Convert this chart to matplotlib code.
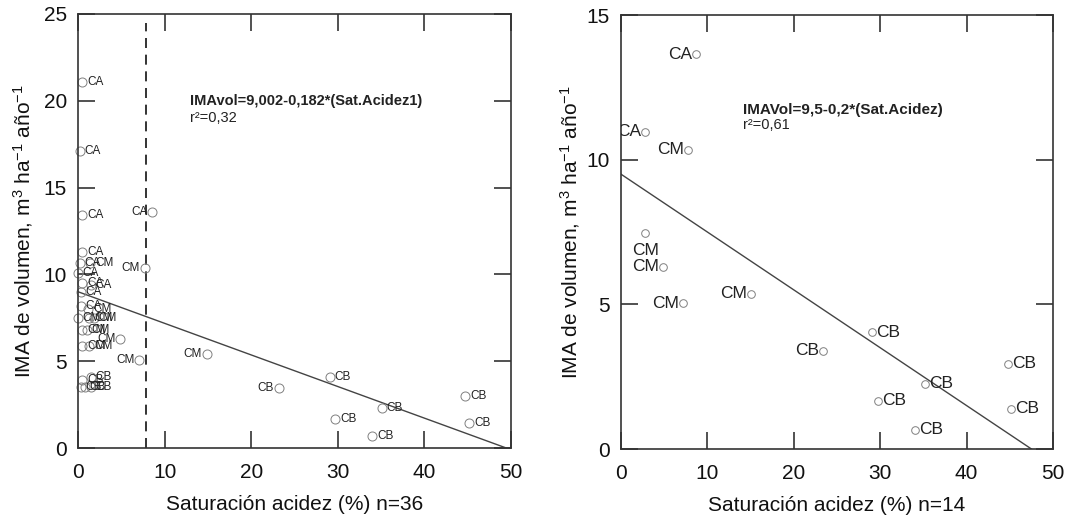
import matplotlib
matplotlib.use("Agg")
import matplotlib.pyplot as plt
import numpy as np

plt.rcParams['font.family'] = ['Liberation Sans', 'DejaVu Sans']
plt.rcParams['mathtext.fontset'] = 'custom'
plt.rcParams['mathtext.rm'] = 'Liberation Sans'
plt.rcParams['mathtext.it'] = 'Liberation Sans:italic'

# ---------------- data: left panel (n=36) ----------------
left_x = [0.5, 0.2, 0.5, 8.6, 0.5, 0.2, 0.0, 0.5, 1.5, 0.3, 0.3,
          1.4, 7.7, 1.2, 0.0, 1.3, 1.8, 0.5, 1.0, 4.9, 7.1, 14.9, 0.5, 1.3,
          1.5, 0.5, 0.3, 0.8, 1.5, 23.2, 29.1, 29.7, 35.1, 34.0, 44.7, 45.2]
left_y = [21.1, 17.1, 13.4, 13.6, 11.3, 10.65, 10.1, 9.5, 9.4, 9.0, 8.2,
          10.65, 10.35, 8.0, 7.5, 7.5, 7.5, 6.8, 6.8, 6.3, 5.05, 5.4, 5.9, 5.9,
          4.1, 3.9, 3.5, 3.5, 3.5, 3.45, 4.1, 1.7, 2.3, 0.7, 3.0, 1.45]
left_lab = ['CA'] * 11 + ['CM'] * 13 + ['CB'] * 12
left_side = ['r', 'r', 'r', 'l', 'r', 'r', 'r', 'r', 'r', 'r', 'r',
             'r', 'l', 'r', 'r', 'r', 'r', 'r', 'r', 'l', 'l', 'l', 'r', 'r',
             'r', 'r', 'r', 'r', 'r', 'l', 'r', 'r', 'r', 'r', 'r', 'r']
left_a, left_b = 9.002, -0.182
left_eq = "IMAvol=9,002-0,182*(Sat.Acidez1)"
left_r2 = "r²=0,32"
left_cut = 7.9

# ---------------- data: right panel (n=14) ----------------
right_x = [8.7, 2.8, 7.8, 2.8, 4.9, 7.2, 15.1,
           23.4, 29.1, 29.7, 35.2, 34.0, 44.8, 45.1]
right_y = [13.65, 10.97, 10.35, 7.46, 6.3, 5.03, 5.37,
           3.4, 4.03, 1.67, 2.26, 0.66, 2.95, 1.39]
right_lab = ['CA', 'CA', 'CM', 'CM', 'CM', 'CM', 'CM',
             'CB', 'CB', 'CB', 'CB', 'CB', 'CB', 'CB']
right_side = ['l', 'l', 'l', 'b', 'l', 'l', 'l',
              'l', 'r', 'r', 'r', 'r', 'r', 'r']
right_a, right_b = 9.5, -0.2
right_eq = "IMAVol=9,5-0,2*(Sat.Acidez)"
right_r2 = "r²=0,61"

xticks = [0, 10, 20, 30, 40, 50]
ylabel = r"IMA de volumen, m$^{3}$ ha$^{-1}$ año$^{-1}$"

fig = plt.figure(figsize=(10.73, 5.18), dpi=100)
axL = fig.add_axes([0.0727, 0.1351, 0.4035, 0.8379])
axR = fig.add_axes([0.5787, 0.1332, 0.4027, 0.8378])

def style(ax, ymax, ystep, xlabel, ypad):
    ax.set_xlim(0, 50)
    ax.set_ylim(0, ymax)
    ax.set_xticks(xticks)
    ax.set_yticks(np.arange(0, ymax + 0.1, ystep))
    ax.tick_params(direction='in', length=12, width=1.2, color='#333333',
                   top=True, right=True, labelsize=15, labelcolor='#111111')
    ax.tick_params(axis='x', pad=11)
    ax.tick_params(axis='y', pad=8)
    for s in ax.spines.values():
        s.set_color('#333333')
        s.set_linewidth(1.2)
    ax.set_xlabel(xlabel, fontsize=15, labelpad=9, color='#111111')
    ax.set_ylabel(ylabel, fontsize=15, labelpad=ypad, color='#111111')

def points(ax, xs, ys, labs, sides, ms, fs, off, below):
    ax.plot(xs, ys, 'o', mfc='none', mec='#808080', mew=0.7, ms=ms, clip_on=False)
    for x, y, t, s in zip(xs, ys, labs, sides):
        if s == 'r':
            ax.annotate(t, (x, y), xytext=(off, 0), textcoords='offset points',
                        ha='left', va='center', fontsize=fs, color='#222222')
        elif s == 'l':
            ax.annotate(t, (x, y), xytext=(-off, 0), textcoords='offset points',
                        ha='right', va='center', fontsize=fs, color='#222222',
                        annotation_clip=False, clip_on=True)
        else:
            ax.annotate(t, (x, y), xytext=(0, -below), textcoords='offset points',
                        ha='center', va='center', fontsize=fs, color='#222222')

# left panel
style(axL, 25, 5, "Saturación acidez (%) n=36", 6)
xr = np.array([0, -left_a / left_b])
axL.plot(xr, left_a + left_b * xr, color='#444444', lw=1.0)
axL.plot([left_cut, left_cut], [0, 24.5], color='#111111', lw=1.2,
         dashes=(6, 4))
points(axL, left_x, left_y, left_lab, left_side, 6.5, 8.5, 3.5, 10)
axL.text(12.9, 20.0, left_eq, fontsize=10.5, fontweight='bold', va='center',
         color='#222222')
axL.text(12.9, 19.0, left_r2, fontsize=10.5, va='center', color='#222222')

# right panel
style(axR, 15, 5, "Saturación acidez (%) n=14", 3.5)
xr = np.array([0, -right_a / right_b])
axR.plot(xr, right_a + right_b * xr, color='#444444', lw=1.0)
points(axR, right_x, right_y, right_lab, right_side, 5.5, 12.5, 3, 12.5)
axR.text(14.1, 11.72, right_eq, fontsize=11, fontweight='bold', va='center',
         color='#222222')
axR.text(14.1, 11.2, right_r2, fontsize=10.5, va='center', color='#222222')

fig.savefig("out.png", dpi=100)
